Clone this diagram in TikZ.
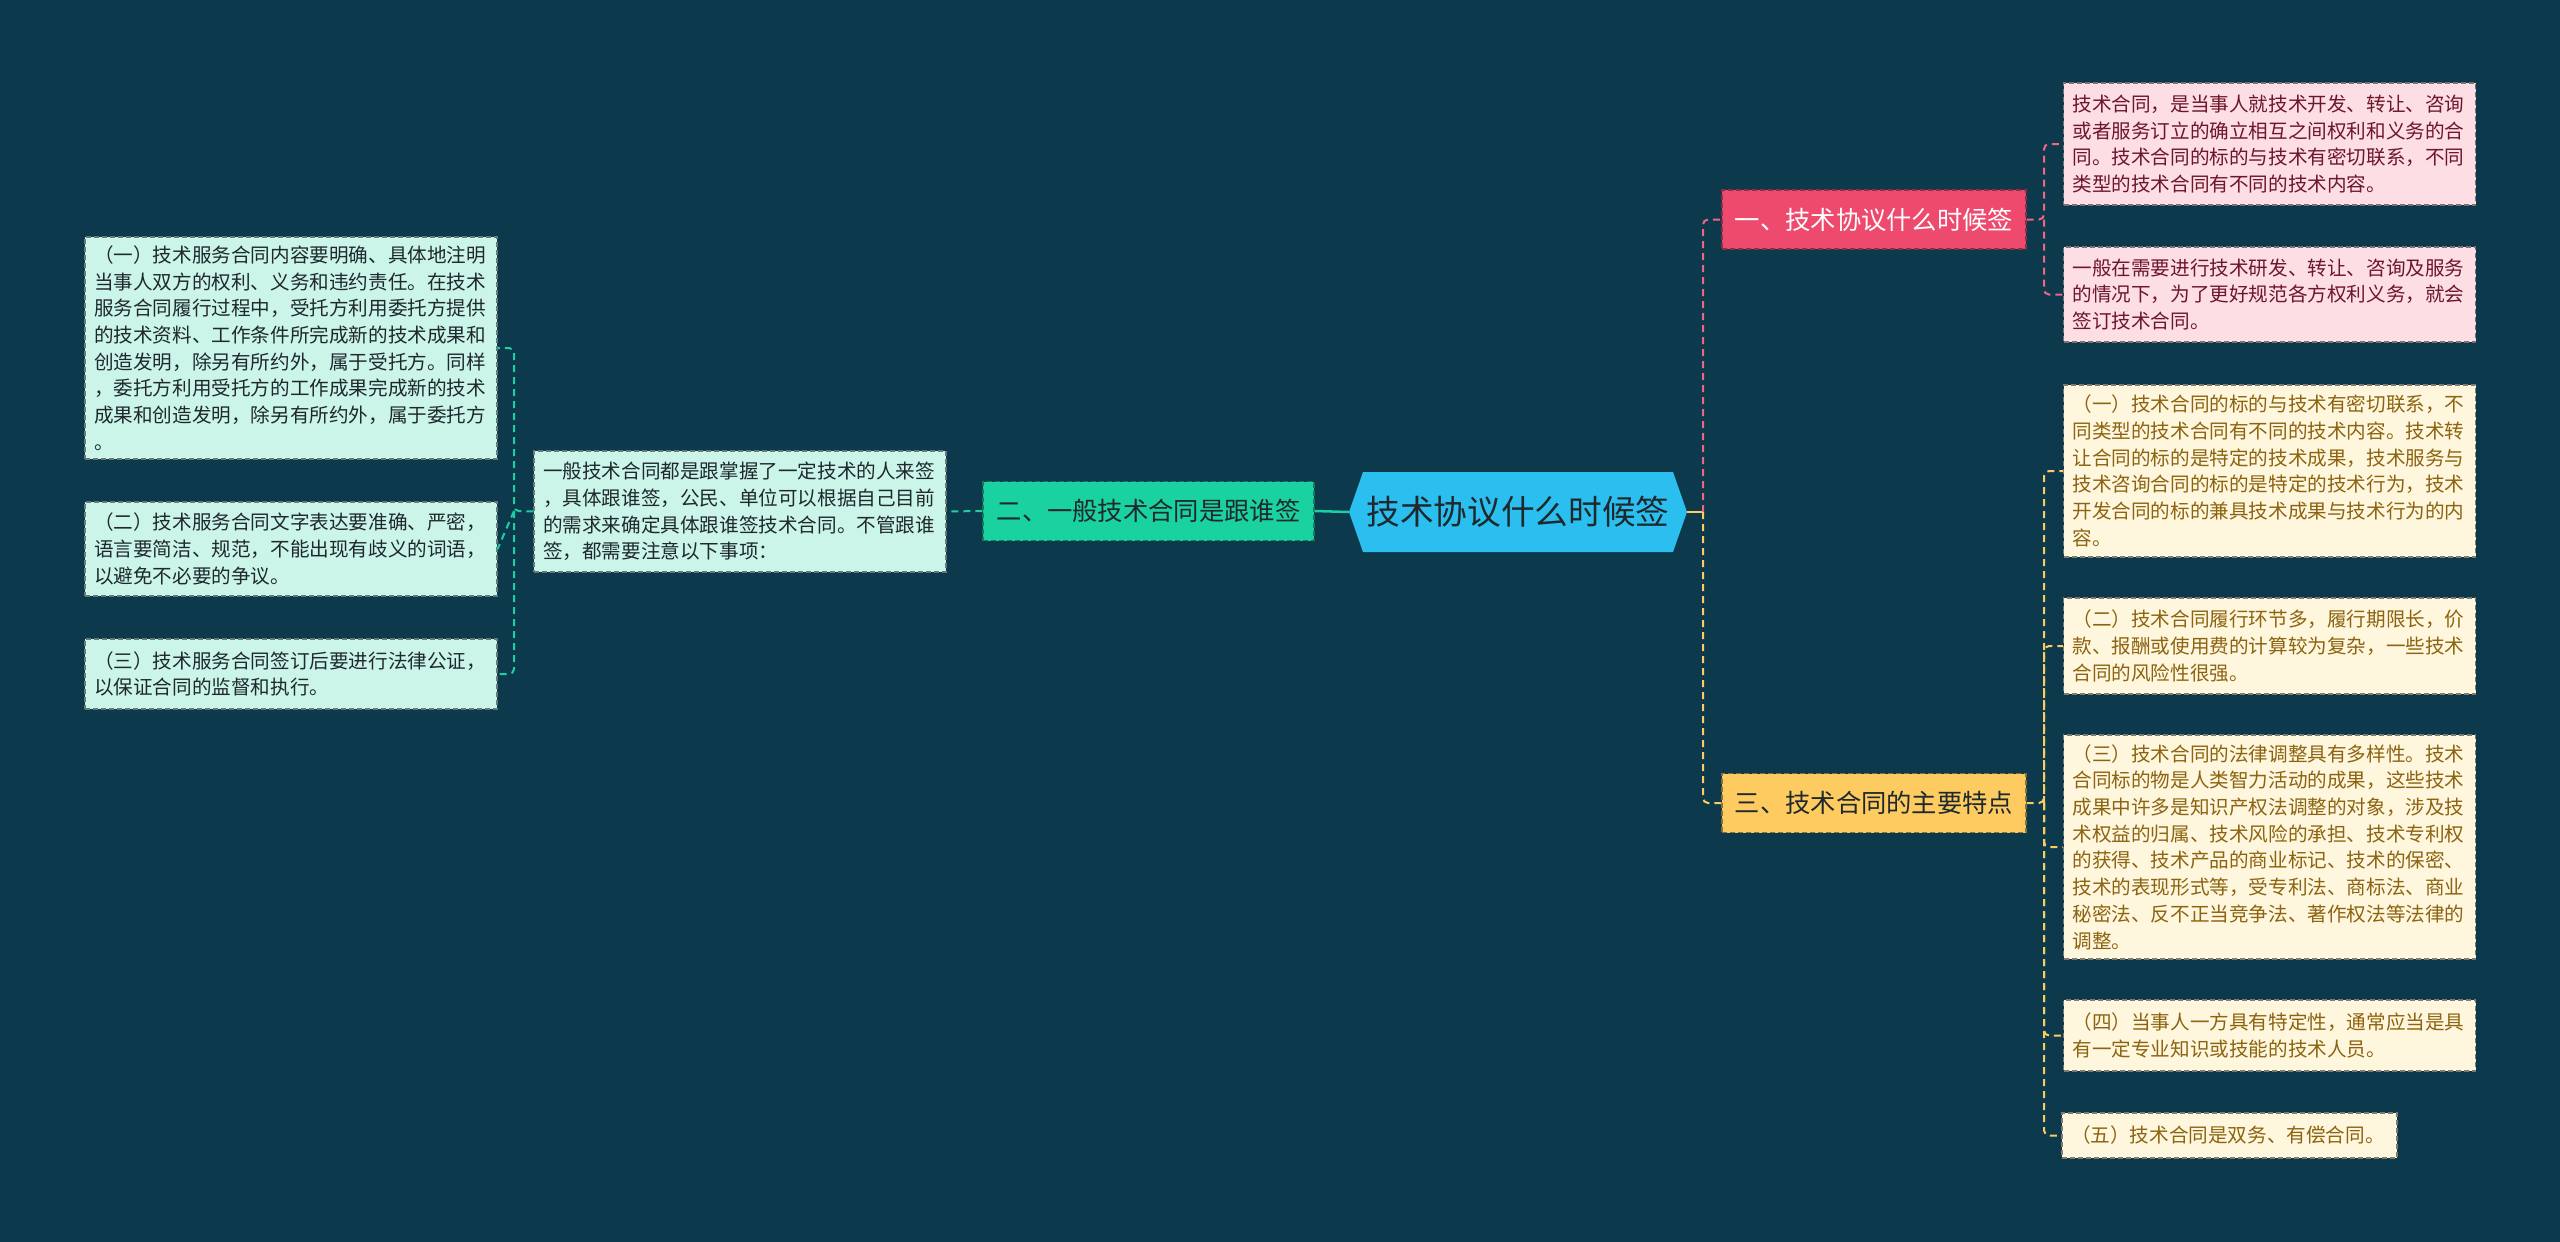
\documentclass[tikz,border=0pt]{standalone}
\usepackage{fontspec}
\setmainfont{Noto Sans CJK SC}
\usetikzlibrary{calc}
\definecolor{bgnavy}{RGB}{12,57,76}
\definecolor{rootblue}{RGB}{43,191,240}
\definecolor{mintdark}{RGB}{26,209,160}
\definecolor{mintlight}{RGB}{204,245,234}
\definecolor{rosered}{RGB}{238,74,110}
\definecolor{roselight}{RGB}{252,222,228}
\definecolor{goldyel}{RGB}{253,203,95}
\definecolor{goldlight}{RGB}{255,246,222}
\definecolor{inkdark}{RGB}{30,40,45}
\definecolor{maroonink}{RGB}{110,22,42}
\definecolor{goldink}{RGB}{140,100,16}
\newcommand{\bodyfont}{\fontsize{19.6}{26.7}\selectfont}
\newcommand{\branchfont}{\fontsize{25.3}{30}\selectfont}

\begin{document}
\begin{tikzpicture}[x=1pt, y=-1pt,
  card/.style={rectangle, dash pattern=on 5pt off 3pt, line width=1.2pt,
    inner xsep=9pt, inner ysep=0pt, text width=394pt, align=left, font=\bodyfont},
  mintcard/.style={card, fill=mintlight, draw=mintlight!50!black, text=inkdark},
  rosecard/.style={card, fill=roselight, draw=roselight!50!black, text=maroonink},
  goldcard/.style={card, fill=goldlight, draw=goldlight!50!black, text=goldink},
  branch/.style={rectangle, dash pattern=on 5pt off 3pt, line width=1.2pt,
    inner sep=0pt, minimum height=59pt, font=\branchfont},
  tealline/.style={draw=mintdark, line width=2pt, dash pattern=on 7pt off 5pt},
  roseline/.style={draw=rosered!85!white, line width=2pt, dash pattern=on 7pt off 5pt, rounded corners=5pt},
  goldline/.style={draw=goldyel, line width=2pt, dash pattern=on 7pt off 5pt, rounded corners=5pt}]
  \fill[bgnavy] (0,0) rectangle (2560,1242);
  \useasboundingbox (0,0) rectangle (2560,1242);

  % Root
  \coordinate (rootc) at (1518,512);
  \fill[rootblue] ($(rootc)+(-169,0)$) -- ($(rootc)+(-155,-40)$) -- ($(rootc)+(155,-40)$)
    -- ($(rootc)+(169,0)$) -- ($(rootc)+(155,40)$) -- ($(rootc)+(-155,40)$) -- cycle;
  \node[inner sep=0pt, minimum width=338pt, minimum height=80pt, text=inkdark,
    font=\fontsize{33.7}{38}\selectfont] (root) at (rootc) {技术协议什么时候签};

  % Left branch
  \node[branch, fill=mintdark, draw=mintdark!60!black, text=inkdark, minimum width=331pt]
    (who) at (1148.5,511) {二、一般技术合同是跟谁签};
  \node[mintcard, minimum height=121pt] (whonote) at (740,511.5)
    {一般技术合同都是跟掌握了一定技术的人来签\\，具体跟谁签，公民、单位可以根据自己目前\\的需求来确定具体跟谁签技术合同。不管跟谁\\签，都需要注意以下事项：};
  \node[mintcard, minimum height=222pt] (svc1) at (291,348)
    {（一）技术服务合同内容要明确、具体地注明\\当事人双方的权利、义务和违约责任。在技术\\服务合同履行过程中，受托方利用委托方提供\\的技术资料、工作条件所完成新的技术成果和\\创造发明，除另有所约外，属于受托方。同样\\，委托方利用受托方的工作成果完成新的技术\\成果和创造发明，除另有所约外，属于委托方\\。};
  \node[mintcard, minimum height=94pt] (svc2) at (291,549)
    {（二）技术服务合同文字表达要准确、严密，\\语言要简洁、规范，不能出现有歧义的词语，\\以避免不必要的争议。};
  \node[mintcard, minimum height=70pt] (svc3) at (291,674)
    {（三）技术服务合同签订后要进行法律公证，\\以保证合同的监督和执行。};

  % Right branches
  \node[branch, fill=rosered, draw=rosered!60!black, text=white, minimum width=304pt]
    (when) at (1874,219.5) {一、技术协议什么时候签};
  \node[branch, fill=goldyel, draw=goldyel!55!black, text=inkdark, minimum width=304pt]
    (trait) at (1874,803) {三、技术合同的主要特点};

  \node[rosecard, minimum height=122pt] (def1) at (2269.5,144)
    {技术合同，是当事人就技术开发、转让、咨询\\或者服务订立的确立相互之间权利和义务的合\\同。技术合同的标的与技术有密切联系，不同\\类型的技术合同有不同的技术内容。};
  \node[rosecard, minimum height=95pt] (def2) at (2269.5,294.5)
    {一般在需要进行技术研发、转让、咨询及服务\\的情况下，为了更好规范各方权利义务，就会\\签订技术合同。};

  \node[goldcard, minimum height=172pt] (feat1) at (2269.5,471)
    {（一）技术合同的标的与技术有密切联系，不\\同类型的技术合同有不同的技术内容。技术转\\让合同的标的是特定的技术成果，技术服务与\\技术咨询合同的标的是特定的技术行为，技术\\开发合同的标的兼具技术成果与技术行为的内\\容。};
  \node[goldcard, minimum height=96pt] (feat2) at (2269.5,646)
    {（二）技术合同履行环节多，履行期限长，价\\款、报酬或使用费的计算较为复杂，一些技术\\合同的风险性很强。};
  \node[goldcard, minimum height=224pt] (feat3) at (2269.5,847)
    {（三）技术合同的法律调整具有多样性。技术\\合同标的物是人类智力活动的成果，这些技术\\成果中许多是知识产权法调整的对象，涉及技\\术权益的归属、技术风险的承担、技术专利权\\的获得、技术产品的商业标记、技术的保密、\\技术的表现形式等，受专利法、商标法、商业\\秘密法、反不正当竞争法、著作权法等法律的\\调整。};
  \node[goldcard, minimum height=71pt] (feat4) at (2269.5,1035.5)
    {（四）当事人一方具有特定性，通常应当是具\\有一定专业知识或技能的技术人员。};
  \node[goldcard, text width=317pt, minimum height=45pt] (feat5) at (2229.5,1135.5)
    {（五）技术合同是双务、有偿合同。};

  % Connectors
  \coordinate (lbus) at (514,511);
  \coordinate (rbus) at (1703,512);
  \coordinate (whenbus) at (2044,219.5);
  \coordinate (traitbus) at (2044,803);
  \draw[mintdark, line width=2.5pt] (root.west) -- (who.east);
  \draw[tealline] (who.west) -- (whonote.east);
  \draw[tealline, rounded corners=5pt] (whonote.west) -- (lbus) |- (svc1.east);
  \draw[tealline] (lbus) -- (svc2.east);
  \draw[tealline, rounded corners=5pt] (lbus) |- (svc3.east);
  \draw[goldyel, line width=2.5pt] (root.east) -- (rbus);
  \draw[roseline] (rbus) |- (when.west);
  \draw[goldline] (rbus) |- (trait.west);
  \draw[roseline] (when.east) -- (whenbus) |- (def1.west);
  \draw[roseline] (whenbus) |- (def2.west);
  \draw[goldline] (trait.east) -- (traitbus) |- (feat1.west);
  \draw[goldline] (traitbus) |- (feat2.west);
  \draw[goldline] (traitbus) |- (feat3.west);
  \draw[goldline] (traitbus) |- (feat4.west);
  \draw[goldline] (traitbus) |- (feat5.west);
\end{tikzpicture}
\end{document}
